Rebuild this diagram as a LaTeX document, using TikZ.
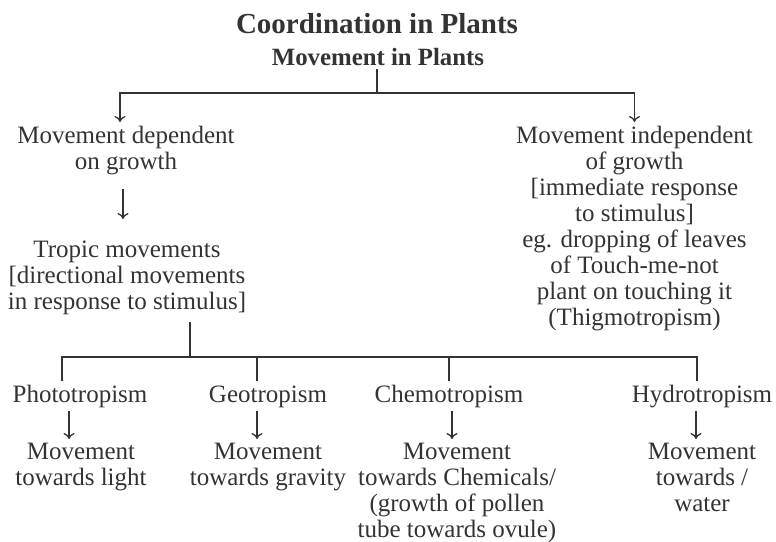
\documentclass[tikz,border=0pt]{standalone}
\usepackage{fontspec}
\setmainfont{Liberation Serif}
\usetikzlibrary{arrows.meta}
\definecolor{ink}{gray}{0.2}
\tikzset{
	txt/.style={inner sep=0pt, outer sep=2pt, align=center, text=ink, font=\fontsize{12.5}{13}\selectfont},
	conn/.style={draw=ink, line width=0.65pt},
	>={To[length=3pt,width=5.5pt]}
}
\begin{document}
\begin{tikzpicture}[x=0.5pt, y=-0.5pt]
		\useasboundingbox (0,0) rectangle (776,541);
		%heading
		\node[txt, anchor=base, font=\fontsize{14.5}{15}\selectfont\bfseries] (title) at (377,33) {Coordination in Plants};
		\node[txt, anchor=base, font=\fontsize{12.4}{13}\selectfont\bfseries] (sub) at (378,65) {Movement in Plants};
		%
		\node[txt, anchor=north] (dep) at (126,122) {Movement dependent\\on growth};
		\node[txt, anchor=north] (indep) at (634.5,122) {Movement independent\\of growth\\{[}immediate response\\to stimulus]\\eg. dropping of leaves\\of Touch-me-not\\plant on touching it\\(Thigmotropism)};
		\node[txt, anchor=north] (trop) at (127,237) {Tropic movements\\{[}directional movements\\in response to stimulus]};
		%tropisms
		\node[txt, anchor=base] (photo) at (80,402) {Phototropism};
		\node[txt, anchor=base] (geo) at (268,402) {Geotropism};
		\node[txt, anchor=base] (chemo) at (449,402) {Chemotropism};
		\node[txt, anchor=base] (hydro) at (702,402) {Hydrotropism};
		\node[txt, anchor=north] (mphoto) at (81,439) {Movement\\towards light};
		\node[txt, anchor=north] (mgeo) at (268,439) {Movement\\towards gravity};
		\node[txt, anchor=north] (mchemo) at (457,439) {Movement\\towards Chemicals/\\(growth of pollen\\tube towards ovule)};
		\node[txt, anchor=north] (mhydro) at (702,439) {Movement\\towards /\\water};
		%branches top
		\coordinate (top) at (377,93);
		\coordinate (tl) at (120,93);
		\draw[conn] (sub.south -| top) -- (top);
		\draw[conn, ->] (top) -- (tl) -- (tl |- dep.north);
		\draw[conn, ->] (top) -| (indep);
		\draw[conn, ->, shorten <=5pt, shorten >=9pt] ([xshift=-1.5pt]dep.south) -- ([xshift=-1.5pt]dep.south |- trop.north);
		%branches bottom
		\coordinate (mid) at (190,357);
		\coordinate (bl) at (62,357);
		\coordinate (bg) at (257,357);
		\coordinate (bc) at (449,357);
		\coordinate (br) at (697,357);
		\draw[conn, shorten <=1.5pt] (mid |- trop.south) -- (mid);
		\draw[conn] (bl |- photo.north) -- (bl) -- (br) -- (br |- hydro.north);
		\draw[conn] (bg) -- (bg |- geo.north);
		\draw[conn] (bc) -- (bc |- chemo.north);
		%arrows
		\draw[conn, ->] ([xshift=-5.5pt]photo.south) -- ([xshift=-5.5pt]photo.south |- mphoto.north);
		\draw[conn, ->] ([xshift=-5.5pt]geo.south) -- ([xshift=-5.5pt]geo.south |- mgeo.north);
		\draw[conn, ->] ([xshift=1.5pt]chemo.south) -- ([xshift=1.5pt]chemo.south |- mchemo.north);
		\draw[conn, ->] ([xshift=-3pt]hydro.south) -- ([xshift=-3pt]hydro.south |- mhydro.north);
	\end{tikzpicture}
\end{document}
